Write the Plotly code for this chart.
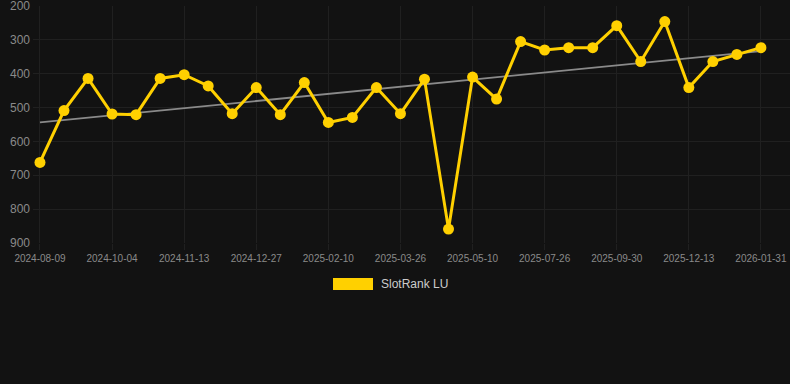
import numpy as np
import plotly.graph_objects as go

dates = [
    "2024-08-09", "2024-08-27", "2024-09-15", "2024-10-04", "2024-10-17", "2024-10-30",
    "2024-11-13", "2024-11-28", "2024-12-12", "2024-12-27", "2025-01-11", "2025-01-26",
    "2025-02-10", "2025-02-24", "2025-03-11", "2025-03-26", "2025-04-10", "2025-04-25",
    "2025-05-10", "2025-06-05", "2025-06-30", "2025-07-26", "2025-08-17", "2025-09-08",
    "2025-09-30", "2025-10-25", "2025-11-19", "2025-12-13", "2025-12-29", "2026-01-15",
    "2026-01-31",
]
rank = [662, 509, 414, 519, 521, 414, 403, 436, 518, 441, 521, 426, 544, 529, 441, 518,
        416, 859, 410, 475, 305, 330, 323, 323, 258, 364, 246, 441, 364, 343, 323]
y_ticks = [200, 300, 400, 500, 600, 700, 800, 900]
series_name = "SlotRank LU"

idx = np.arange(len(rank))
slope, intercept = np.polyfit(idx, rank, 1)
trend = slope * idx + intercept

fig = go.Figure()
fig.add_trace(go.Scatter(x=dates, y=trend, mode="lines",
                         line=dict(color="#8a8a8a", width=1.8),
                         showlegend=False, hoverinfo="skip"))
fig.add_trace(go.Scatter(x=dates, y=rank, mode="lines+markers", name=series_name,
                         line=dict(color="#FFD000", width=3),
                         marker=dict(color="#FFD000", size=11),
                         showlegend=False, cliponaxis=False))

fig.update_layout(
    width=790, height=384,
    paper_bgcolor="#121212", plot_bgcolor="#121212",
    margin=dict(l=33, r=0, t=6, b=141),
    font=dict(family="Liberation Sans, Arial, sans-serif", color="#888888"),
    xaxis=dict(type="category", categoryorder="array", categoryarray=dates,
               range=[-0.29, len(dates) - 1 + 1.21],
               tickvals=dates[::3], ticktext=dates[::3],
               showgrid=True, gridcolor="#202020", gridwidth=1,
               ticks="outside", ticklen=6, tickcolor="#202020",
               tickfont=dict(size=10, color="#8a8a8a"),
               ticklabeloverflow="allow",
               showline=False, zeroline=False),
    yaxis=dict(range=[900, 200], tickvals=y_ticks,
               showgrid=True, gridcolor="#202020", gridwidth=1,
               tickfont=dict(size=12, color="#8a8a8a"),
               ticks="", ticklabelstandoff=2,
               ticklabeloverflow="allow",
               showline=False, zeroline=False),
    showlegend=False,
    shapes=[dict(type="rect", xref="paper", yref="paper",
                 x0=(333 - 33) / 757, x1=(373 - 33) / 757,
                 y0=(243 - 290) / 237, y1=(243 - 278) / 237,
                 fillcolor="#FFD000", line=dict(width=0))],
    annotations=[dict(text=series_name, xref="paper", yref="paper",
                      x=(379 - 33) / 757, y=(243 - 284) / 237,
                      xanchor="left", yanchor="middle", showarrow=False,
                      font=dict(size=12, color="#cccccc"))],
)

fig.write_html("out.html", config={"displayModeBar": False},
               post_script="document.body.style.margin='0';document.body.style.background='#121212';")
